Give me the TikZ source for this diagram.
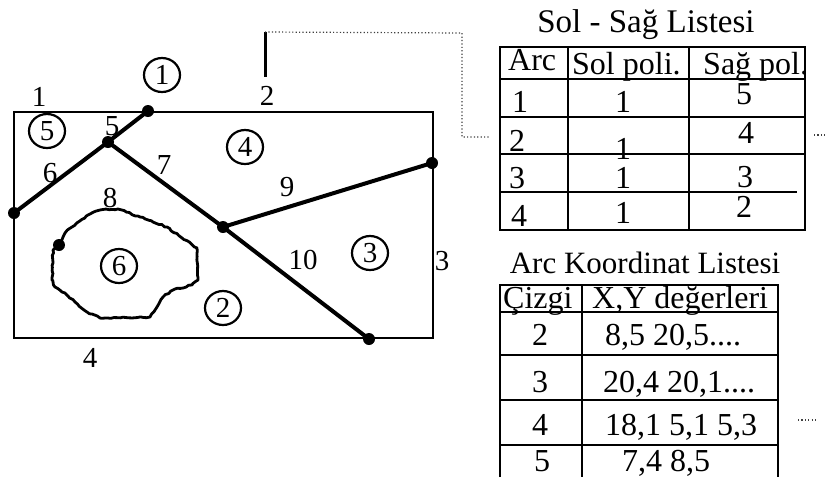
\documentclass[tikz,border=0pt]{standalone}
\usepackage{fontspec}
\setmainfont{Liberation Serif}
\usetikzlibrary{shapes.geometric,decorations.pathmorphing}
\begin{document}
\begin{tikzpicture}[x=1pt,y=-1pt,
  lbl/.style={inner sep=0pt,font=\fontsize{29}{31}\selectfont},
  reg/.style={ellipse,draw,line width=2.2pt,minimum width=36pt,minimum height=34pt,inner sep=0pt,font=\fontsize{29}{31}\selectfont},
  boundary/.style={line width=2.5pt},
  arcline/.style={line width=4pt},
  island/.style={line width=2.8pt,line join=round,decorate,decoration={random steps,segment length=3pt,amplitude=0.7pt}},
  vtx/.style={circle,fill,inner sep=0pt,minimum size=12pt},
  gridline/.style={line width=2.4pt},
  dotline/.style={line width=1.2pt,dash pattern=on 1.2pt off 2.2pt,black!75},
  tone/.style={inner sep=0pt,anchor=base,font=\fontsize{32}{34}\selectfont},
  ttwo/.style={inner sep=0pt,anchor=base,font=\fontsize{32}{34}\selectfont},
  ttl/.style={inner sep=0pt,anchor=base}
]
\useasboundingbox (0,0) rectangle (827,477);
\pgfmathsetseed{7}
% ---------- map ----------
\coordinate (tl) at (14,112);
\coordinate (tr) at (433,112);
\coordinate (br) at (433,338);
\coordinate (bl) at (14,338);
\draw[boundary] (tl) -- (tr) -- (br) -- (bl) -- cycle;

\node[vtx] (A) at (148,111) {};
\node[vtx] (B) at (108,142) {};
\node[vtx] (C) at (14,213) {};
\node[vtx] (D) at (223,227) {};
\node[vtx] (E) at (432,163) {};
\node[vtx] (F) at (369,339) {};
\node[vtx] (G) at (59,245) {};

\draw[arcline] (A.center) -- (B.center);
\draw[arcline] (B.center) -- (C.center);
\draw[arcline] (B.center) -- (D.center);
\draw[arcline] (D.center) -- (F.center);
\draw[arcline] (D.center) -- (E.center);

\draw[island] (G.center) -- (65,233) -- (72,227) -- (88,215) -- (100,210) -- (118,209) -- (140,217)
  -- (153,222) -- (167,227) -- (182,238) -- (197,248) -- (198,280) -- (192,285) -- (173,290)
  -- (163,297) -- (157,307) -- (150,317) -- (100,318) -- (87,312) -- (75,302) -- (65,293)
  -- (55,287) -- (52,280) -- (53,250) -- cycle;

% arc labels
\node[lbl] (l1) at (39,97) {1};
\node[lbl] (l2) at (267,96) {2};
\node[lbl] (l3) at (442,261) {3};
\node[lbl] (l4) at (90,358) {4};
\node[lbl] (l5) at (112,126) {5};
\node[lbl] (l6) at (50,173) {6};
\node[lbl] (l7) at (164,165) {7};
\node[lbl] (l8) at (110,198) {8};
\node[lbl] (l9) at (287,187) {9};
\node[lbl] (l10) at (303,260) {10};
% polygon labels
\node[reg] (p1) at (162,75) {1};
\node[reg] (p2) at (223,308) {2};
\node[reg] (p3) at (370,253) {3};
\node[reg] (p4) at (245,147) {4};
\node[reg] (p5) at (47,131) {5};
\node[reg] (p6) at (119,266) {6};

% pointer from arc 2 to table
\coordinate (tickTop) at (265,32);
\coordinate (tickBot) at (265,77);
\coordinate (dA) at (462,33);
\coordinate (dB) at (462,137);
\coordinate (dC) at (490,137);
\draw[line width=3pt] (tickTop) -- (tickBot);
\draw[dotline] (tickTop) -- (dA) -- (dB) -- (dC);
\coordinate (dD) at (814,135);
\coordinate (dE) at (825,135);
\draw[dotline] (dD) -- (dE);
\coordinate (dF) at (798,420);
\coordinate (dG) at (818,420);
\draw[dotline] (dF) -- (dG);

% ---------- table 1 ----------
\node[ttl,font=\fontsize{33}{35}\selectfont] (title1) at (646,32) {Sol - Sağ Listesi};
\draw[gridline] (500,47) rectangle (805,230);
\draw[gridline] (568,47) -- (568,230);
\draw[gridline] (689,47) -- (689,230);
\draw[gridline] (500,79) -- (805,79);
\draw[gridline] (500,117) -- (805,117);
\draw[gridline] (500,154) -- (805,154);
\draw[gridline] (500,192) -- (797,192);

\node[tone,anchor=base west] (h1) at (508,70) {Arc};
\node[tone,anchor=base west] (h2) at (572,74) {Sol poli.};
\node[tone,anchor=base west] (h3) at (703,74) {Sağ pol.};
\node[tone] (a1) at (520,112) {1};
\node[tone] (b1) at (623,112) {1};
\node[tone] (c1) at (744,104) {5};
\node[tone] (a2) at (517,151) {2};
\node[tone] (b2) at (623,159) {1};
\node[tone] (c2) at (746,143) {4};
\node[tone] (a3) at (517,188) {3};
\node[tone] (b3) at (623,188) {1};
\node[tone] (c3) at (745,187) {3};
\node[tone] (a4) at (519,226) {4};
\node[tone] (b4) at (623,223) {1};
\node[tone] (c4) at (744,217) {2};

% ---------- table 2 ----------
\node[ttl,font=\fontsize{31}{33}\selectfont] (title2) at (645,273) {Arc Koordinat Listesi};
\draw[gridline] (500,477) -- (500,285) -- (778,285) -- (778,477);
\draw[gridline] (582,285) -- (582,477);
\draw[gridline] (500,312) -- (778,312);
\draw[gridline] (500,355) -- (778,355);
\draw[gridline] (500,400) -- (778,400);
\draw[gridline] (500,445) -- (778,445);

\node[ttwo,anchor=base west] (k0) at (503,308) {Çizgi};
\node[ttwo,anchor=base west] (v0) at (592,308) {X,Y değerleri};
\node[ttwo] (k1) at (540,345) {2};
\node[ttwo,anchor=base west] (v1) at (605,345) {8,5 20,5....};
\node[ttwo] (k2) at (540,392) {3};
\node[ttwo,anchor=base west] (v2) at (603,392) {20,4 20,1....};
\node[ttwo] (k3) at (540,435) {4};
\node[ttwo,anchor=base west] (v3) at (605,435) {18,1 5,1 5,3};
\node[ttwo] (k4) at (542,471) {5};
\node[ttwo,anchor=base west] (v4) at (622,471) {7,4 8,5};
\end{tikzpicture}
\end{document}
